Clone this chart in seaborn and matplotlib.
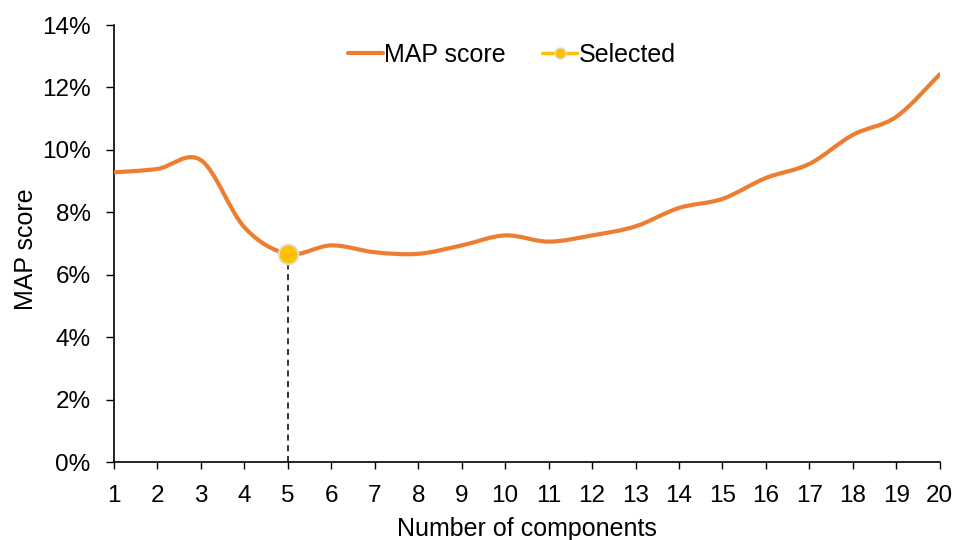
import numpy as np
import matplotlib
matplotlib.use("Agg")
import matplotlib.pyplot as plt
import seaborn as sns
from matplotlib.path import Path
from matplotlib.patches import PathPatch
from matplotlib.lines import Line2D

# veri (yuzde cinsinden)
components = list(range(1, 21))
map_score = [9.28, 9.39, 9.67, 7.52, 6.67, 6.94, 6.72, 6.67, 6.94, 7.26,
             7.06, 7.26, 7.55, 8.14, 8.43, 9.10, 9.55, 10.48, 11.06, 12.42]
selected_k = 5
y_ticks = [0, 2, 4, 6, 8, 10, 12, 14]

ORANGE = "#ED7D31"
YELLOW = "#FFC000"

sns.set_style("white")
plt.rcParams["font.family"] = ["Liberation Sans", "DejaVu Sans"]
plt.rcParams["text.color"] = "black"
plt.rcParams["axes.labelcolor"] = "black"
plt.rcParams["xtick.color"] = "black"
plt.rcParams["ytick.color"] = "black"

fig = plt.figure(figsize=(9.55, 5.4), dpi=100)
ax = fig.add_axes([0.1194, 0.1444, 0.8646, 0.8093])


def smooth_path(xs, ys):
    # Excel tarzi yumusak cizgi: Catmull-Rom kontrol noktalari ile Bezier
    pts = np.column_stack([xs, ys]).astype(float)
    n = len(pts)
    verts = [pts[0]]
    codes = [Path.MOVETO]
    for i in range(n - 1):
        p0 = pts[i - 1] if i > 0 else pts[i]
        p1 = pts[i]
        p2 = pts[i + 1]
        p3 = pts[i + 2] if i + 2 < n else pts[i + 1]
        verts += [p1 + (p2 - p0) / 6, p2 - (p3 - p1) / 6, p2]
        codes += [Path.CURVE4] * 3
    return Path(verts, codes)


ax.add_patch(PathPatch(smooth_path(components, map_score), fill=False,
                       edgecolor=ORANGE, lw=3, capstyle="round",
                       joinstyle="round", zorder=3))

sel_val = map_score[components.index(selected_k)]
ax.plot([selected_k, selected_k], [0, sel_val], color="black", lw=1.1,
        ls=(0, (4, 3)), zorder=2)
sns.scatterplot(x=[selected_k], y=[sel_val], ax=ax, color=YELLOW, s=200,
                edgecolor="#DDDDDD", linewidth=1.5, zorder=4, legend=False)

ax.set_xlim(1, 20)
ax.set_ylim(0, 14)
ax.set_xticks(components)
ax.set_yticks(y_ticks)
ax.set_yticklabels([f"{v}%" for v in y_ticks])
ax.tick_params(axis="x", labelsize=17.5, length=5, width=1, color="black",
               labelcolor="black", direction="out", bottom=True, pad=11.5)
ax.tick_params(axis="y", labelsize=17.5, length=6, width=1, color="black",
               labelcolor="black", direction="out", left=True, pad=10.8)
ax.set_xlabel("Number of components", fontsize=18, color="black")
ax.set_ylabel("MAP score", fontsize=18, color="black")
ax.xaxis.set_label_coords(0.5, -0.125)
ax.yaxis.set_label_coords(-0.092, 0.487)

for side in ["top", "right"]:
    ax.spines[side].set_visible(False)
for side in ["left", "bottom"]:
    ax.spines[side].set_color("black")
    ax.spines[side].set_linewidth(1.2)

handles = [
    Line2D([], [], color=ORANGE, lw=3),
    Line2D([], [], color=YELLOW, lw=2.5, marker="o", markersize=8,
           markerfacecolor=YELLOW, markeredgecolor="#DDDDDD"),
]
fig.legend(handles, ["MAP score", "Selected"], loc="center",
           bbox_to_anchor=(0.536, 0.898), ncol=2, frameon=False, fontsize=18,
           handlelength=1.4, handletextpad=0.05, columnspacing=1.45,
           labelcolor="black")

fig.savefig("out.png", dpi=100)
